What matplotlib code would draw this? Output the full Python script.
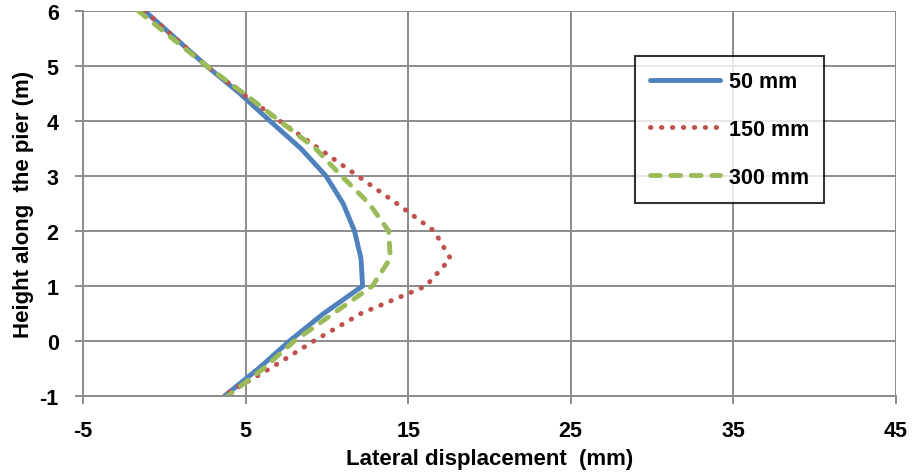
import matplotlib
matplotlib.use("Agg")
import matplotlib.pyplot as plt

plt.rcParams.update({"font.family": ["Liberation Sans", "DejaVu Sans"], "font.weight": "bold",
                     "axes.unicode_minus": False})

height = [6, 5.5, 5, 4.5, 4, 3.5, 3, 2.5, 2, 1.5, 1, 0.5, 0, -0.5, -1]
disp_50 = [-1.2, 0.7, 2.6, 4.65, 6.5, 8.4, 9.95, 11.0, 11.7, 12.1, 12.2, 9.8, 7.7, 5.8, 3.7]
disp_150 = [-1.2, 0.7, 2.6, 4.8, 7.1, 9.5, 11.9, 14.3, 16.6, 17.6, 16.1, 12.1, 9.2, 6.5, 3.6]
disp_300 = [-1.6, 0.5, 2.6, 4.9, 7.1, 9.3, 10.9, 12.6, 13.8, 13.9, 12.8, 10.4, 8.0, 6.1, 3.9]
labels = ["50 mm", "150 mm", "300 mm"]
xticks = [-5, 5, 15, 25, 35, 45]
yticks = [-1, 0, 1, 2, 3, 4, 5, 6]

fig = plt.figure(figsize=(9.16, 4.77), dpi=100)
ax = fig.add_axes([0.0906, 0.1677, 0.8874, 0.8072])

ax.plot(disp_50, height, color="#4F81BD", lw=3.5, label=labels[0],
        solid_capstyle="round", solid_joinstyle="round")
ax.plot(disp_150, height, color="#C0504D", lw=3.5, linestyle=(0, (0.1, 2.15)),
        dash_capstyle="round", label=labels[1])
ax.plot(disp_300, height, color="#9BBB59", lw=3.5, linestyle=(0, (2.0, 2.2)),
        dash_capstyle="round", label=labels[2])

ax.set_xlim(-5, 45)
ax.set_ylim(-1, 6)
ax.set_xticks(xticks)
ax.set_yticks(yticks)
ax.grid(True, color="#8c8c8c", lw=1.4)
ax.set_axisbelow(True)
for s in ["top", "right"]:
    ax.spines[s].set_visible(False)
for s in ["left", "bottom"]:
    ax.spines[s].set_color("#8c8c8c")
    ax.spines[s].set_linewidth(1.4)
ax.tick_params(colors="#8c8c8c", length=5.5, width=1.4, labelcolor="black",
               labelsize=15.5)
ax.tick_params(axis="x", pad=12)
ax.tick_params(axis="y", pad=12)
for t in ax.get_xticklabels() + ax.get_yticklabels():
    t.set_fontweight("bold")

ax.set_xlabel("Lateral displacement  (mm)", fontsize=16, fontweight="bold", labelpad=5)
ax.set_ylabel("Height along  the pier (m)", fontsize=16, fontweight="bold", labelpad=4)

leg = ax.legend(loc="upper left", bbox_to_anchor=(0.679, 0.883), fontsize=15.5,
                frameon=True, fancybox=False, edgecolor="black", handlelength=3.25,
                handletextpad=0.4, borderpad=0.7, labelspacing=1.25, borderaxespad=0)
leg.get_frame().set_linewidth(1.5)
for t in leg.get_texts():
    t.set_fontweight("bold")

fig.savefig("out.png", dpi=100)
